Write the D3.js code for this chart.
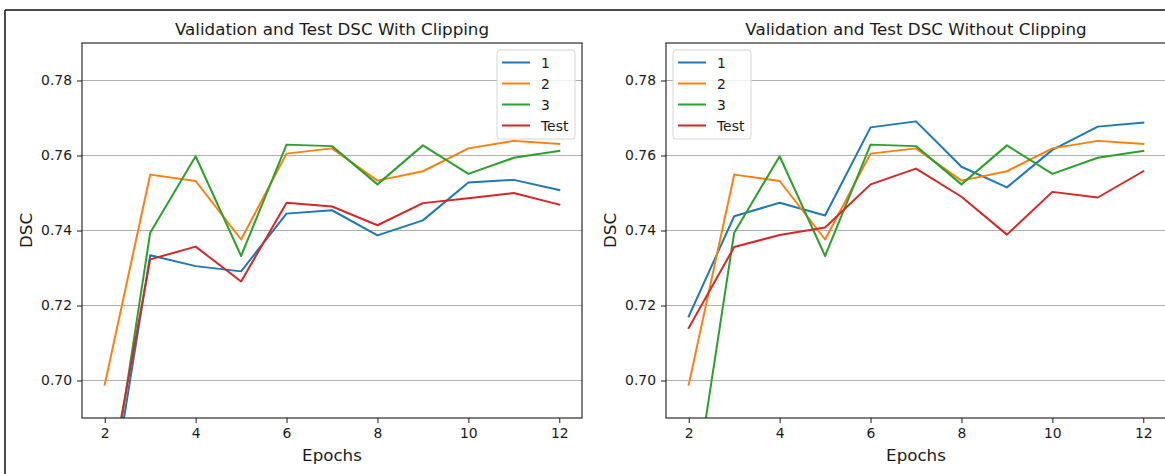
<!DOCTYPE html>
<html>
<head>
<meta charset="utf-8">
<script src="https://cdn.jsdelivr.net/npm/d3@7/dist/d3.min.js"></script>
<style>
  html, body { margin: 0; padding: 0; background: #fff; }
  svg { display: block; font-family: "DejaVu Sans", sans-serif; }
</style>
</head>
<body>
<svg id="fig" width="1165" height="474"></svg>
<script>
// Epochs on the x axis
const epochs = [2, 3, 4, 5, 6, 7, 8, 9, 10, 11, 12];

// Validation DSC per run and test DSC, trained with gradient clipping
const clipRun1 = [0.658, 0.7334, 0.7305, 0.7291, 0.7445, 0.7454, 0.7387, 0.7427, 0.7528, 0.7535, 0.7508];
const clipRun2 = [0.6989, 0.7549, 0.7532, 0.7376, 0.7605, 0.7619, 0.7533, 0.7558, 0.7619, 0.7639, 0.7631];
const clipRun3 = [0.660, 0.7394, 0.7598, 0.7332, 0.7629, 0.7625, 0.7523, 0.7627, 0.7551, 0.7594, 0.7612];
const clipTest = [0.666, 0.7323, 0.7357, 0.7264, 0.7474, 0.7464, 0.7414, 0.7473, 0.7486, 0.7500, 0.7469];

// Same, trained without clipping
const noClipRun1 = [0.7171, 0.7438, 0.7474, 0.7440, 0.7675, 0.7691, 0.7570, 0.7515, 0.7615, 0.7677, 0.7688];
const noClipRun2 = [0.6989, 0.7549, 0.7532, 0.7376, 0.7605, 0.7619, 0.7533, 0.7558, 0.7619, 0.7639, 0.7631];
const noClipRun3 = [0.660, 0.7394, 0.7598, 0.7332, 0.7629, 0.7625, 0.7523, 0.7627, 0.7551, 0.7594, 0.7612];
const noClipTest = [0.7140, 0.7356, 0.7388, 0.7408, 0.7523, 0.7565, 0.7490, 0.7389, 0.7503, 0.7488, 0.7558];

const seriesNames = ["1", "2", "3", "Test"];
const seriesColors = ["#1f77b4", "#ff7f0e", "#2ca02c", "#d62728"];
const xTicks = [2, 4, 6, 8, 10, 12];
const yTicks = [0.70, 0.72, 0.74, 0.76, 0.78];
const xDomain = [1.5, 12.5];
const yDomain = [0.69, 0.79];

const panels = [
  { title: "Validation and Test DSC With Clipping", series: [clipRun1, clipRun2, clipRun3, clipTest],
    left: 82, legendSide: "right" },
  { title: "Validation and Test DSC Without Clipping", series: [noClipRun1, noClipRun2, noClipRun3, noClipTest],
    left: 666, legendSide: "left" }
];

const svg = d3.select("#fig");
const plotW = 500, plotTop = 43, plotH = 375;
const ink = "#1a1a1a";

// outer frame (top and left edges)
svg.append("line").attr("x1", 5).attr("y1", 10).attr("x2", 1165).attr("y2", 10)
  .attr("stroke", "#111").attr("stroke-width", 1.5);
svg.append("line").attr("x1", 5).attr("y1", 10).attr("x2", 5).attr("y2", 474)
  .attr("stroke", "#111").attr("stroke-width", 1.5);

panels.forEach((p, pi) => {
  const x = d3.scaleLinear().domain(xDomain).range([0, plotW]);
  const y = d3.scaleLinear().domain(yDomain).range([plotH, 0]);
  const g = svg.append("g").attr("transform", `translate(${p.left},${plotTop})`);

  g.append("clipPath").attr("id", "clip" + pi)
    .append("rect").attr("x", 0).attr("y", 0).attr("width", plotW).attr("height", plotH);

  // horizontal grid
  g.append("g").selectAll("line").data(yTicks).join("line")
    .attr("x1", 0).attr("x2", plotW)
    .attr("y1", d => y(d)).attr("y2", d => y(d))
    .attr("stroke", "#b0b0b0").attr("stroke-width", 1);

  // lines
  const line = d3.line().x((d, i) => x(epochs[i])).y(d => y(d));
  const lg = g.append("g").attr("clip-path", `url(#clip${pi})`);
  p.series.forEach((s, si) => {
    lg.append("path").datum(s).attr("d", line)
      .attr("fill", "none").attr("stroke", seriesColors[si])
      .attr("stroke-width", 2).attr("stroke-linejoin", "round").attr("stroke-linecap", "square");
  });

  // axes
  const xAxis = d3.axisBottom(x).tickValues(xTicks).tickFormat(d3.format("d")).tickSize(5).tickPadding(5);
  const yAxis = d3.axisLeft(y).tickValues(yTicks).tickFormat(d3.format(".2f")).tickSize(5).tickPadding(5);
  const gx = g.append("g").attr("transform", `translate(0,${plotH})`).call(xAxis);
  const gy = g.append("g").call(yAxis);
  [gx, gy].forEach(a => {
    a.select(".domain").remove();
    a.selectAll(".tick line").attr("stroke", ink).attr("stroke-width", 1);
    a.selectAll(".tick text").attr("fill", ink).style("font-size", "13.9px")
      .style("font-family", "DejaVu Sans, sans-serif");
  });

  // spines
  g.append("rect").attr("x", 0).attr("y", 0).attr("width", plotW).attr("height", plotH)
    .attr("fill", "none").attr("stroke", ink).attr("stroke-width", 1.1);

  // title and axis labels
  g.append("text").attr("x", plotW / 2).attr("y", -8).attr("text-anchor", "middle")
    .attr("fill", ink).style("font-size", "16.7px").text(p.title);
  g.append("text").attr("x", plotW / 2).attr("y", plotH + 43).attr("text-anchor", "middle")
    .attr("fill", ink).style("font-size", "16.7px").text("Epochs");
  g.append("text").attr("transform", `translate(-50,${plotH / 2}) rotate(-90)`)
    .attr("text-anchor", "middle").attr("fill", ink).style("font-size", "16.7px").text("DSC");

  // legend
  const lw = 78, lh = 89;
  const lx = p.legendSide === "right" ? plotW - 7 - lw : 7;
  const leg = g.append("g").attr("transform", `translate(${lx},7)`);
  leg.append("rect").attr("width", lw).attr("height", lh).attr("rx", 3)
    .attr("fill", "#fff").attr("fill-opacity", 0.8)
    .attr("stroke", "#d6d6d6").attr("stroke-width", 1);
  seriesNames.forEach((n, i) => {
    const cy = 12.5 + i * 21;
    leg.append("line").attr("x1", 5).attr("x2", 33).attr("y1", cy).attr("y2", cy)
      .attr("stroke", seriesColors[i]).attr("stroke-width", 2);
    leg.append("text").attr("x", 44).attr("y", cy).attr("dy", "0.36em")
      .attr("fill", ink).style("font-size", "13.9px").text(n);
  });
});
</script>
</body>
</html>
